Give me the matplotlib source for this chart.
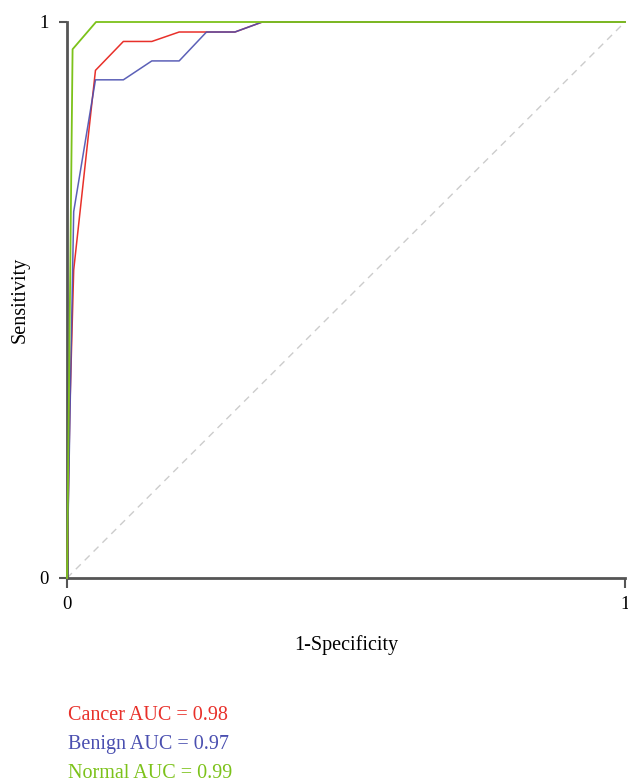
import matplotlib
matplotlib.use("Agg")
import matplotlib.pyplot as plt

# ROC curves (1-specificity, sensitivity)
cancer_fpr = [0.0, 0.005, 0.012, 0.051, 0.101, 0.152, 0.201, 0.250, 0.301, 0.350, 1.0]
cancer_tpr = [0.0, 0.30, 0.554, 0.913, 0.965, 0.965, 0.982, 0.982, 0.982, 1.0, 1.0]

benign_fpr = [0.0, 0.012, 0.051, 0.101, 0.152, 0.201, 0.250, 0.301, 0.350, 1.0]
benign_tpr = [0.0, 0.659, 0.896, 0.896, 0.930, 0.930, 0.982, 0.982, 1.0, 1.0]

normal_fpr = [0.0, 0.010, 0.052, 1.0]
normal_tpr = [0.0, 0.951, 1.0, 1.0]

labels = ["Cancer AUC = 0.98", "Benign AUC = 0.97", "Normal AUC = 0.99"]

RED = "#e8302a"
BLUE = "#4a4fb0"
GREEN = "#7cc21a"
AXIS = "#555555"

plt.rcParams["font.family"] = ["Liberation Serif", "DejaVu Serif"]

fig = plt.figure(figsize=(6.28, 7.84), dpi=100)
ax = fig.add_axes([67 / 628, 1 - 578 / 784, 558 / 628, 556 / 784])

ax.plot([0, 1], [0, 1], color="#cccccc", lw=1, dashes=(5, 4), zorder=1)
ax.plot(cancer_fpr, cancer_tpr, color=RED, lw=1.1, clip_on=False, zorder=3)
ax.plot(benign_fpr, benign_tpr, color=BLUE, lw=1.1, alpha=0.9,
        clip_on=False, zorder=4)
ax.plot(normal_fpr, normal_tpr, color=GREEN, lw=1.3, clip_on=False, zorder=5)

ax.set_xlim(0, 1)
ax.set_ylim(0, 1)
ax.set_xticks([0, 1])
ax.set_yticks([0, 1])
ax.set_xticklabels(["0", "1"], fontsize=13.5)
ax.set_yticklabels(["0", "1"], fontsize=13.5)
for side in ("top", "right"):
    ax.spines[side].set_visible(False)
for side in ("left", "bottom"):
    ax.spines[side].set_color(AXIS)
    ax.spines[side].set_linewidth(2)
ax.tick_params(axis="y", length=6, width=1.5, color=AXIS, pad=7)
ax.tick_params(axis="x", length=7, width=1.5, color=AXIS, pad=6)

fig.text(20 / 628, 1 - 300 / 784, "Sensitivity", rotation=90,
         ha="center", va="center", fontsize=14.5)
fig.text(346 / 628, 1 - 645 / 784, "1-Specificity",
         ha="center", va="center", fontsize=14.5)

for i, (lbl, col) in enumerate(zip(labels, [RED, BLUE, GREEN])):
    fig.text(68 / 628, 1 - (715 + 29 * i) / 784, lbl,
             color=col, ha="left", va="center", fontsize=14.5)

fig.savefig("out.png", dpi=100)
